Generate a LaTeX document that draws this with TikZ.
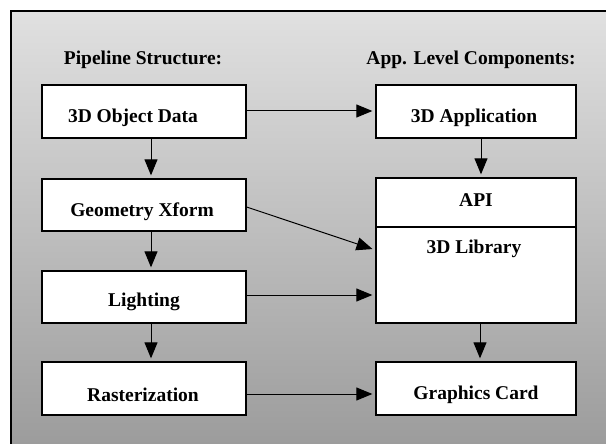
\documentclass[tikz,border=0pt]{standalone}
\usepackage{fontspec}
\setmainfont{Liberation Serif}
\usetikzlibrary{arrows.meta}
\begin{document}
\begin{tikzpicture}[x=1pt,y=-1pt,
  box/.style={draw=black,line width=1.3pt,fill=white,minimum width=204pt,inner sep=0pt},
  lbl/.style={font=\bfseries\fontsize{19.5}{22}\selectfont},
  heading/.style={font=\bfseries\fontsize{19.5}{22}\selectfont},
  link/.style={line width=1pt,-{Triangle[length=16pt,width=13pt]},shorten >=3pt}]
% page and shaded panel
\useasboundingbox (0,0) rectangle (606,444);
\fill[white] (0,0) rectangle (606,444);
\shade[top color=gray!24!white,bottom color=gray!78!white] (11,11) rectangle (610,448);
\draw[line width=2pt] (11,448) -- (11,11) -- (610,11);
% headings
\node[heading] (hl) at (143,60) {Pipeline Structure:};
\node[heading] (hr) at (471,60) {App. Level Components:};
% pipeline column
\node[box,minimum height=53pt] (obj) at (144,111.5) {};
\node[box,minimum height=52pt] (geo) at (144,205) {};
\node[box,minimum height=52pt] (lit) at (144,297) {};
\node[box,minimum height=53pt] (ras) at (144,388.5) {};
\node[lbl] at (133,118) {3D Object Data};
\node[lbl] at (142,212) {Geometry Xform};
\node[lbl] at (144,302) {Lighting};
\node[lbl] at (143,395) {Rasterization};
% component column
\node[box,minimum width=200pt,minimum height=53pt] (app) at (476,111.5) {};
\node[box,minimum width=200pt,minimum height=145pt] (lib) at (476,250.5) {};
\draw[line width=1.3pt] (lib.west |- 0,227) -- (lib.east |- 0,227);
\node[box,minimum width=200pt,minimum height=53pt] (gfx) at (476,388.5) {};
\node[lbl] at (474,118) {3D Application};
\node[lbl] at (476,200) {API};
\node[lbl] at (474,249) {3D Library};
\node[lbl] at (476,395) {Graphics Card};
% connectors
\draw[link] (obj.south -| 151,0) -- (geo.north -| 151,0);
\draw[link] (geo.south -| 151,0) -- (lit.north -| 151,0);
\draw[link] (lit.south -| 151,0) -- (ras.north -| 151,0);
\draw[link] (obj.east |- 0,111) -- (app.west |- 0,111);
\draw[link] (app.south -| 481,0) -- (lib.north -| 481,0);
\draw[link] (lib.south -| 480,0) -- (gfx.north -| 480,0);
\draw[link] (geo.east |- 0,207) -- (lib.west |- 0,250);
\draw[link] (lit.east |- 0,295) -- (lib.west |- 0,295);
\draw[link] (ras.east |- 0,394) -- (gfx.west |- 0,394);
\end{tikzpicture}
\end{document}
